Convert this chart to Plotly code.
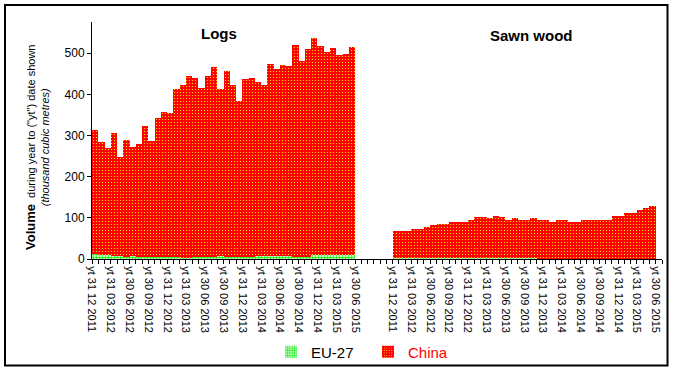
import plotly.graph_objects as go

tick_labels = ["yt 31 12 2011", "yt 31 03 2012", "yt 30 06 2012", "yt 30 09 2012",
               "yt 31 12 2012", "yt 31 03 2013", "yt 30 06 2013", "yt 30 09 2013",
               "yt 31 12 2013", "yt 31 03 2014", "yt 30 06 2014", "yt 30 09 2014",
               "yt 31 12 2014", "yt 31 03 2015", "yt 30 06 2015"]

logs_eu = [11, 10, 9, 8, 8, 6, 7, 5, 5, 4, 4, 4, 4, 4, 3, 3, 4, 4, 4, 4,
           7, 5, 5, 5, 5, 5, 7, 7, 7, 7, 7, 7, 5, 5, 5, 9, 9, 9, 9, 9, 9, 9]
logs_china = [302, 274, 260, 298, 239, 283, 265, 274, 318, 282, 338, 353, 351, 408,
              420, 442, 437, 411, 441, 463, 406, 452, 418, 379, 432, 435, 423, 416,
              467, 455, 465, 462, 515, 476, 506, 528, 509, 494, 504, 487, 489, 506]
sawn_eu = [3, 3, 3, 3, 3, 3, 3, 3, 3, 3, 3, 3, 3, 3, 3, 3, 3, 3, 3, 3, 3, 3, 3,
           1, 1, 1, 1, 1, 1, 1, 1, 1, 1, 1, 1, 1, 1, 1, 1, 1, 1, 1]
sawn_china = [64, 66, 66, 71, 71, 74, 79, 81, 83, 86, 86, 88, 93, 98, 98, 96, 101,
              98, 93, 96, 93, 93, 96, 95, 95, 90, 95, 93, 88, 88, 93, 93, 95, 95,
              93, 103, 103, 110, 110, 117, 124, 127]

N = len(logs_china)
GAP = 6
offset = N + GAP
x_logs = list(range(N))
x_sawn = [i + offset for i in range(N)]
xs = x_logs + x_sawn
eu = logs_eu + sawn_eu
china = logs_china + sawn_china

tickvals = [-0.5 + 3 * j for j in range(len(tick_labels))] + \
           [offset - 0.5 + 3 * j for j in range(len(tick_labels))]
ticktext = tick_labels + tick_labels

FONT = "Arial, Liberation Sans, sans-serif"

fig = go.Figure()
fig.add_trace(go.Bar(
    x=xs, y=eu, name="EU-27",
    marker=dict(color="#ffffff", line=dict(width=0),
                pattern=dict(shape=".", fgcolor="#00ee00", bgcolor="#ffffff",
                             size=3, solidity=0.5, fillmode="replace")),
))
fig.add_trace(go.Bar(
    x=xs, y=china, name="<span style='color:#ff0000'>China</span>",
    marker=dict(color="#ff0000", line=dict(width=0),
                pattern=dict(shape=".", fgcolor="#ffff00", bgcolor="#ff0000",
                             size=3, solidity=0.13, fillmode="replace")),
))

L, R, T, B = 92, 11, 22, 111
W, H = 673, 370
pw, ph = W - L - R, H - T - B

def px_x(p):
    return (p - L) / pw

def px_y(p):
    return (H - B - p) / ph

fig.update_layout(
    width=W, height=H,
    margin=dict(l=L, r=R, t=T, b=B, autoexpand=False),
    barmode="stack", bargap=0,
    plot_bgcolor="white", paper_bgcolor="white",
    font=dict(family=FONT, color="black"),
    showlegend=True,
    legend=dict(orientation="h", x=px_x(271), y=px_y(352), xanchor="left", yanchor="middle",
                traceorder="normal",
                font=dict(size=15, family=FONT), entrywidth=52, entrywidthmode="pixels",
                bgcolor="rgba(0,0,0,0)"),
    xaxis=dict(range=[-0.5, N + offset - 0.5 + 1], showgrid=False, zeroline=False,
               automargin=False,
               showline=True, linecolor="black", linewidth=1,
               tickmode="array", tickvals=tickvals, ticktext=ticktext,
               ticks="outside", ticklen=4, tickcolor="black", tickangle=90,
               tickfont=dict(size=11, family=FONT),
               minor=dict(ticks="outside", dtick=1, tick0=-0.5, ticklen=4, tickcolor="black")),
    yaxis=dict(range=[0, 576], showgrid=False, zeroline=False, automargin=False,
               showline=True, linecolor="black", linewidth=1,
               tickmode="linear", tick0=0, dtick=100,
               ticks="outside", ticklen=4, tickcolor="black",
               tickfont=dict(size=12, family=FONT)),
)

fig.add_annotation(x=px_x(219), y=px_y(33), xref="paper", yref="paper",
                   xanchor="center", yanchor="middle",
                   text="<b>Logs</b>", showarrow=False, font=dict(size=15, family=FONT))
fig.add_annotation(x=px_x(531), y=px_y(36), xref="paper", yref="paper",
                   xanchor="center", yanchor="middle",
                   text="<b>Sawn wood</b>", showarrow=False, font=dict(size=15, family=FONT))
fig.add_annotation(x=px_x(37), y=px_y(148), xref="paper", yref="paper", textangle=-90,
                   xanchor="center", yanchor="middle",
                   text="<b><span style='font-size:13px'>Volume</span></b>  during year to (\"yt\") date shown"
                        "<br><i>(thousand cubic metres)</i>",
                   showarrow=False, font=dict(size=11, family=FONT))

fig.add_shape(type="rect", xref="paper", yref="paper",
              x0=px_x(5), x1=px_x(667.5), y0=px_y(365.5), y1=px_y(5),
              line=dict(color="black", width=2), fillcolor="rgba(0,0,0,0)")

fig.write_html("out.html")
